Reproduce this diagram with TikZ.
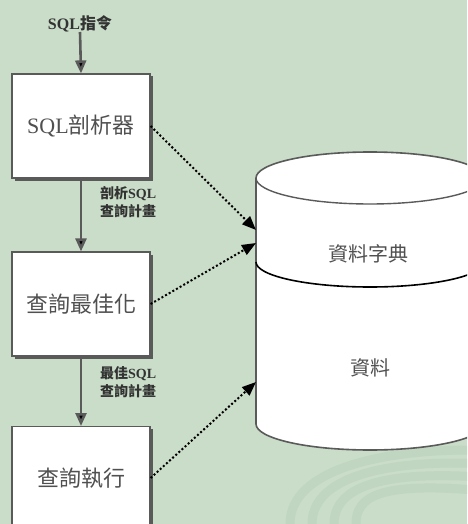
\documentclass[tikz,border=0pt]{standalone}
\usepackage{fontspec}
\setmainfont{Liberation Serif}
\newfontfamily\cjk{Noto Sans CJK TC}
\usetikzlibrary{arrows.meta,shadows}
\definecolor{bg}{HTML}{C9DDC8}
\definecolor{bgdark}{HTML}{C1D6C0}
\definecolor{edge}{HTML}{5A5A5A}
\definecolor{txt}{HTML}{505050}
\tikzset{
  stepbox/.style={draw=edge, line width=1.2pt, fill=white, minimum width=138pt,
    minimum height=104pt, inner sep=0pt, text=txt, font=\fontsize{22}{26}\selectfont\cjk,
    drop shadow={shadow xshift=2.5pt, shadow yshift=-2.5pt, fill=edge, opacity=1}},
  flow/.style={draw=edge, line width=2.6pt, -{Triangle[length=13pt,width=11pt,fill=black]}},
  lookup/.style={draw=black, line width=2pt, dash pattern=on 2pt off 2.2pt,
    -{Triangle[length=14pt,width=11pt,fill=black]}},
  note/.style={text=black!80, font=\fontsize{14}{17}\selectfont\bfseries\cjk, align=left, inner sep=0pt},
  dbtext/.style={text=txt, font=\fontsize{20}{24}\selectfont\cjk, inner sep=0pt}
}
\begin{document}
\begin{tikzpicture}[x=1pt,y=-1pt]
  \useasboundingbox (0,0) rectangle (467,524);
  \fill[bg] (0,0) rectangle (467,524);
  \begin{scope}
    \clip (0,0) rectangle (467,524);
    % faint background stripes, lower right
    \foreach \r in {0,22,44,66} {
      \draw[bgdark, line width=9pt, line cap=round]
        (290+\r,524) .. controls (290+\r,470+\r*0.4) and (380,450+\r*0.5) .. (470,450+\r*0.6);
    }

    % database cylinder
    \path[draw=edge, line width=1.6pt, fill=white]
      (256,178) -- (256,424)
      arc[start angle=180, end angle=0, x radius=114, y radius=26]
      -- (484,178)
      arc[start angle=0, end angle=-180, x radius=114, y radius=26] -- cycle;
    \draw[edge, line width=1.4pt]
      (256,178) arc[start angle=180, end angle=0, x radius=114, y radius=26];
    \draw[black, line width=1.6pt]
      (256,262) arc[start angle=180, end angle=0, x radius=114, y radius=25];
  \end{scope}
  \node[dbtext] (dict) at (368,254) {資料字典};
  \node[dbtext] (data) at (370,368) {資料};
  \coordinate (dictin1) at (256,230);
  \coordinate (dictin2) at (256,243);
  \coordinate (datain) at (256,382);

  % processing stages
  \node[stepbox] (parser) at (81,126) {{\rmfamily SQL}剖析器};
  \node[stepbox] (optim) at (81,304) {查詢最佳化};
  \node[stepbox, anchor=north] (exec) at (81,426) {查詢執行};
  \node[note, anchor=south, font=\fontsize{16}{19}\selectfont\bfseries\cjk] (input) at (80,32) {{\rmfamily SQL}指令};

  \draw[flow] (input.south) -- (parser.north);
  \draw[flow] (parser.south) -- (optim.north);
  \draw[flow] (optim.south) -- (exec.north);

  \node[note, anchor=north west] (lab1) at (100,186) {剖析{\rmfamily SQL}\\[1pt]查詢計畫};
  \node[note, anchor=north west] (lab2) at (100,366) {最佳{\rmfamily SQL}\\[1pt]查詢計畫};

  \draw[lookup] (parser.east) -- (dictin1);
  \draw[lookup] (optim.east) -- (dictin2);
  \draw[lookup] (exec.east |- 0,478) -- (datain);
\end{tikzpicture}
\end{document}
